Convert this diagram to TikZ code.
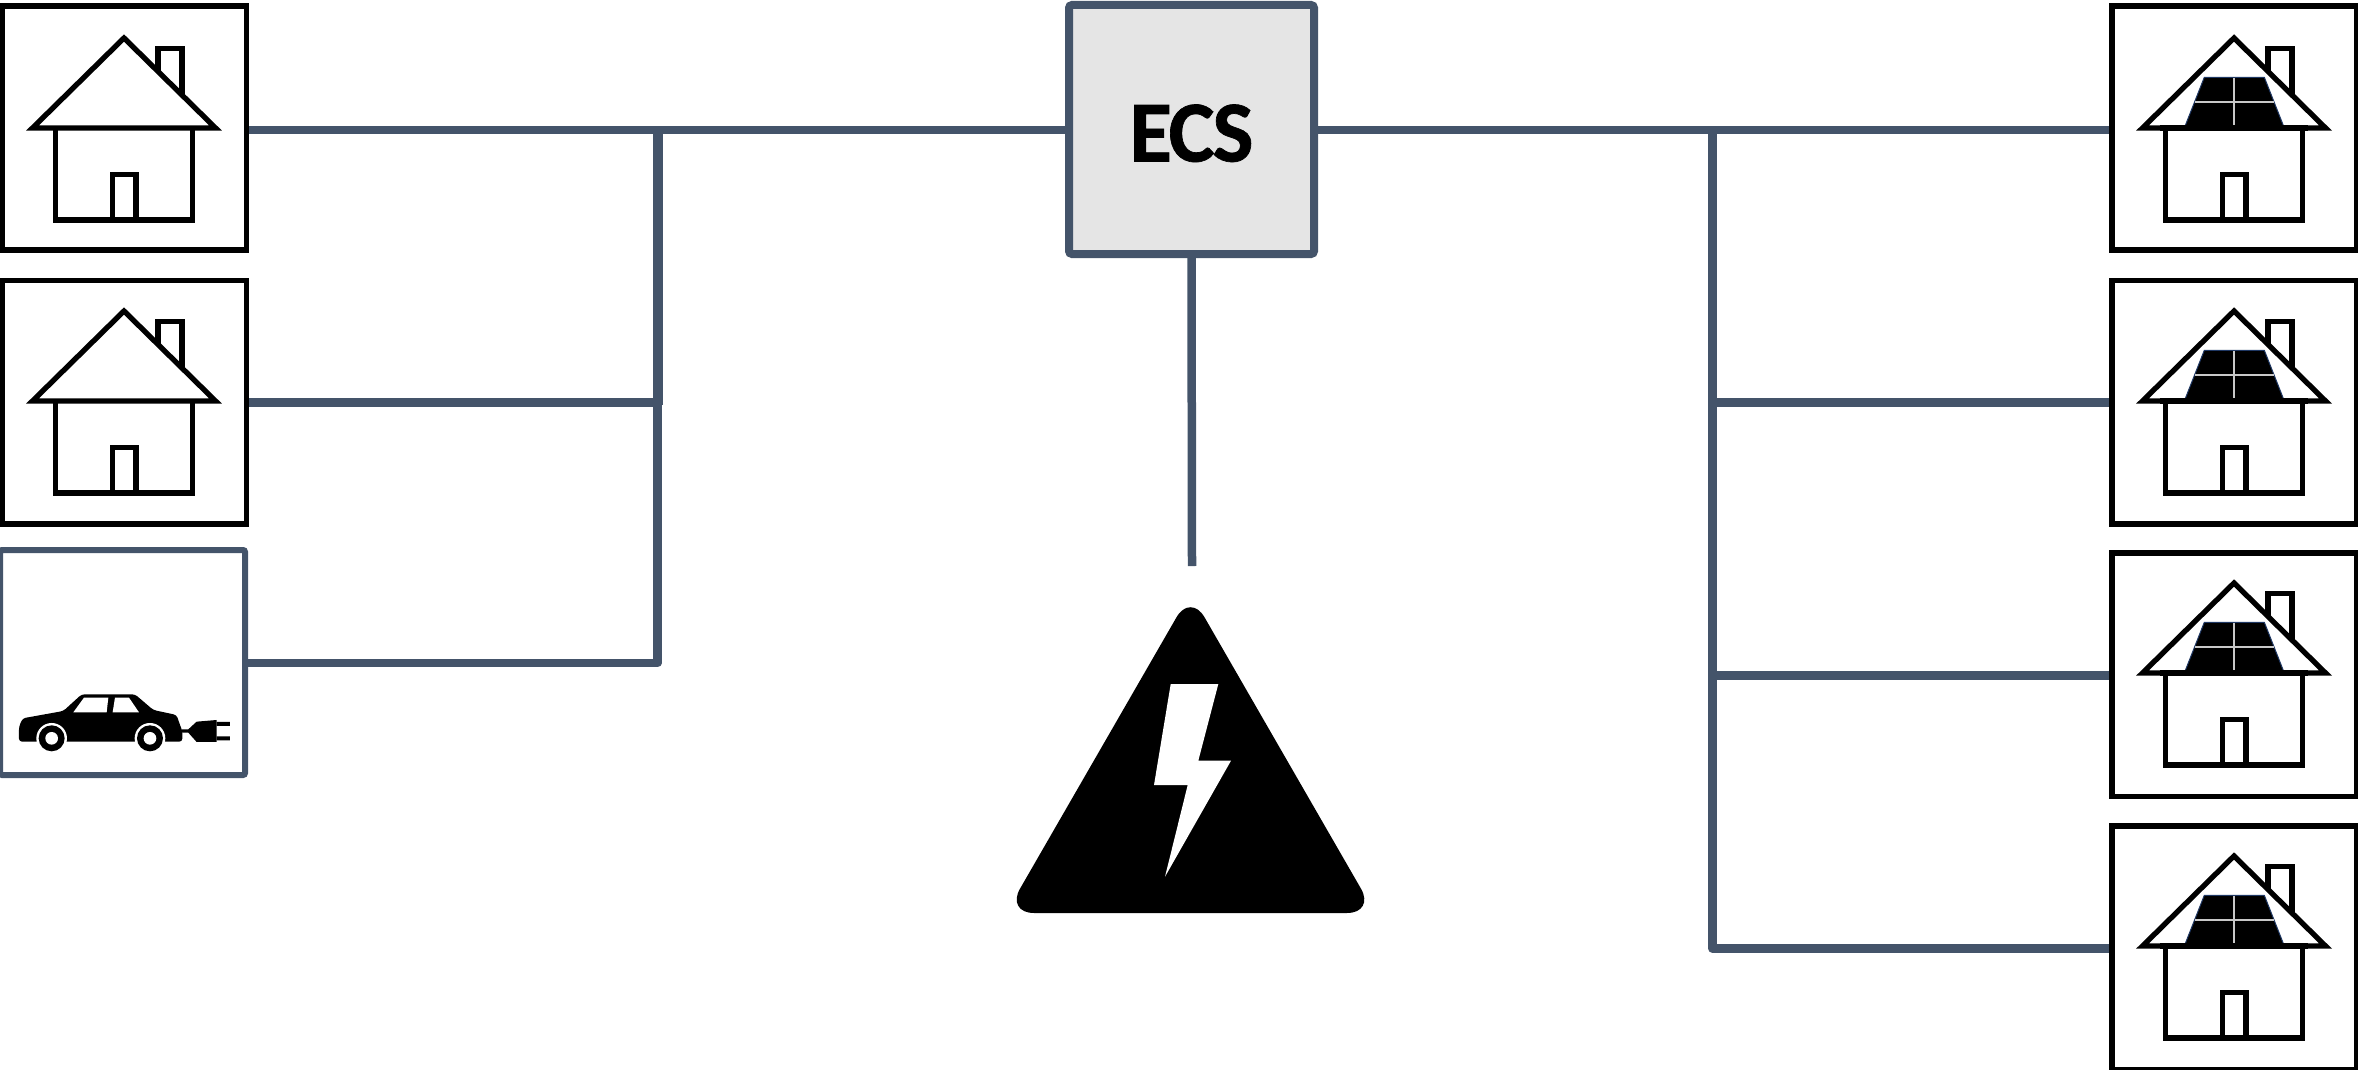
\documentclass[tikz,border=0pt]{standalone}
\usepackage{fontspec}
\newfontfamily\ecsfont[LetterSpace=-2.5,BoldFeatures={FakeBold=0.8}]{Carlito}
\usetikzlibrary{calc}
\definecolor{slateline}{HTML}{44546A}
\definecolor{ecsgrey}{HTML}{E5E5E5}
\definecolor{panelgrid}{HTML}{C8C8C8}
\definecolor{paneledge}{HTML}{1F3864}
\tikzset{
  homebox/.style={draw=black,line width=5.5pt,fill=white,rectangle,inner sep=0pt,minimum width=244.5pt,minimum height=243.5pt},
  carbox/.style={draw=slateline,line width=6pt,fill=white,rectangle,rounded corners=2pt,inner sep=0pt,minimum width=245pt,minimum height=225pt},
  ecsbox/.style={draw=slateline,line width=8pt,fill=ecsgrey,rectangle,rounded corners=3pt,inner sep=0pt,minimum width=245pt,minimum height=249pt,
     font=\ecsfont\bfseries\fontsize{87}{87}\selectfont,text height=64pt,text depth=0pt},
  wire/.style={draw=slateline,line width=8.5pt,line join=round},
  widewire/.style={draw=slateline,line width=10pt,line join=round},
  houseline/.style={draw=black,line width=5.3pt,miter limit=10},
  pics/house/.style={code={
    \draw[houseline] (158,72) -- (158,48.7) -- (182,48.7) -- (182,96);
    \draw[houseline,fill=white] (124,38) -- (32.5,128) -- (215.5,128) -- cycle;
    \draw[houseline] (55.5,128) -- (55.5,220) -- (192.5,220) -- (192.5,128);
    \draw[houseline] (112.5,220) -- (112.5,174.5) -- (136,174.5) -- (136,220);
  }},
  pics/solarpanel/.style={code={
    \draw[paneledge,line width=1pt,fill=black] (94.3,77.3) -- (154.3,77.3) -- (174.3,128) -- (74.3,128) -- cycle;
    \draw[panelgrid,line width=2pt] (124.3,77.8) -- (124.3,127) (84.6,102.4) -- (164.4,102.4);
    \draw[black,line width=5.3pt] (50,128) -- (198,128);
  }}
}
\begin{document}
\begin{tikzpicture}[x=1pt,y=-1pt]
\useasboundingbox (0,0) rectangle (2358,1070);
% boxes
\node[homebox] (h1) at (124.25,128) {};
\node[homebox] (h2) at (124.25,402) {};
\node[carbox] (car) at (122.5,662.5) {};
\node[homebox] (s1) at (2234,128) {};
\node[homebox] (s2) at (2234,402) {};
\node[homebox] (s3) at (2234,674.5) {};
\node[homebox] (s4) at (2234,947.5) {};
\node[ecsbox] (ecs) at (1191.5,129.5) {ECS};
% junctions and free end
\coordinate (jl1) at (658,130);
\coordinate (jl2) at (658,405);
\coordinate (jl2b) at (657.5,402.5);
\coordinate (jl3) at (657.5,663);
\coordinate (jr1) at (1712.5,130);
\coordinate (jr2) at (1712.5,402.5);
\coordinate (jr3) at (1712.5,675.5);
\coordinate (jr4) at (1712.5,948.5);
\coordinate (gridend) at (1192,566);
% connectors
\draw[wire] (h1.east |- jl1) -- (ecs.west |- jl1);
\draw[wire] (ecs.east |- jr1) -- (s1.west |- jr1);
\draw[widewire] (jl1) -- (jl2);
\draw[wire] (h2.east |- jl2b) -- (jl2b) -- (jl3) -- (car.east |- jl3);
\draw[wire] (jr1) -- (jr4) -- (s4.west |- jr4);
\draw[wire] (jr2) -- (s2.west |- jr2);
\draw[wire] (jr3) -- (s3.west |- jr3);
\draw[wire] (ecs.south) -- (gridend);
% houses
\pic at (0,0) {house};
\pic at (0,273) {house};
\foreach \dy in {0,273,545,818} {
  \pic at (2110,\dy) {house};
  \pic at (2110,\dy) {solarpanel};
}
% car
\begin{scope}[shift={(0,540)},x=0.3333pt,y=-0.3333pt]
  \fill[black,rounded corners=3pt] (57,605) -- (57,560) -- (68,535) -- (190,513) -- (245,463) -- (405,463) -- (460,510) -- (530,525) -- (540,555) -- (547,572) -- (547,605) -- cycle;
  \fill[white] (155,595) circle (46) (450,595) circle (46);
  \fill[black] (155,595) circle (39) (450,595) circle (39);
  \fill[white] (155,595) circle (19) (450,595) circle (19);
  \fill[white] (220,517) -- (252,473) -- (325,473) -- (320,517) -- cycle;
  \fill[white] (338,517) -- (345,473) -- (387,473) -- (417,517) -- cycle;
  \fill[black] (545,568) -- (565,568) -- (590,545) -- (650,540) -- (650,606) -- (590,606) -- (565,578) -- (545,578) -- cycle;
  \fill[black] (650,546) rectangle (690,558) (650,589) rectangle (690,601);
\end{scope}
% warning triangle
\fill[black,rounded corners=28pt] (1190.5,593) -- (1375,913) -- (1006,913) -- cycle;
\fill[white] (1170.7,684) -- (1218.3,684) -- (1198.3,760.7) -- (1231,760.7) -- (1165,876.7) -- (1187.7,785) -- (1154,785) -- cycle;
\end{tikzpicture}
\end{document}
